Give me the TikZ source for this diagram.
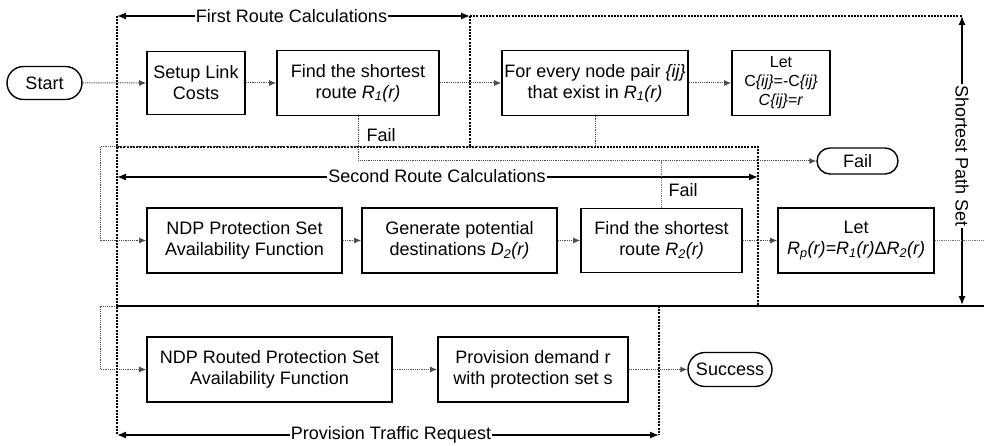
\documentclass[tikz,border=0pt]{standalone}
\usepackage{fontspec}
\setmainfont{Liberation Sans}
\usetikzlibrary{arrows.meta,shapes.misc,calc}
\newcommand{\Rr}[1]{\textit{R\textsubscript{#1}(r)}}
\begin{document}
\begin{tikzpicture}[x=1pt,y=-1pt,
  font=\fontsize{18}{21}\selectfont,
  box/.style={draw,line width=1.6pt,rectangle,inner sep=0pt,align=center},
  term/.style={draw,line width=1.4pt,rounded rectangle,inner sep=0pt,align=center},
  conn/.style={draw=black!70,line width=1pt,dash pattern=on 1.2pt off 1pt,-{Latex[length=7pt,width=6pt]}},
  connl/.style={draw=black!55,line width=0.9pt,dash pattern=on 1.2pt off 1pt},
  region/.style={draw=black,line width=1.4pt,dash pattern=on 2pt off 1.2pt},
  dim/.style={draw=black,line width=1.3pt,{Latex[length=9pt,width=7pt]}-{Latex[length=9pt,width=7pt]}},
  lbl/.style={fill=white,inner sep=1pt}
]
\useasboundingbox (0,0) rectangle (984,446);

% region coordinates
\coordinate (a1) at (117,16);
\coordinate (a2) at (470,16);
\coordinate (a3) at (962,16);
\coordinate (a4) at (470,147);
\coordinate (b1) at (117,147);
\coordinate (b2) at (758,147);
\coordinate (b3) at (758,306);
\coordinate (c0) at (100,306);
\coordinate (c1) at (117,306);
\coordinate (c2) at (659,306);
\coordinate (c3) at (984,306);
\coordinate (c4) at (659,435);
\coordinate (bl) at (117,435);
\coordinate (s2) at (962,305);
\coordinate (d1) at (117,177);
\coordinate (d2) at (758,177);
\coordinate (g1) at (100,147);
\coordinate (exitR) at (984,240.5);

% regions
\draw[region] (a1) -- (bl);
\draw[region] (a2) -- (a3);
\draw[region] (a2) -- (a4);
\draw[region] (b1) -- (b2) -- (b3);
\draw[region] (c2) -- (c4);
\draw[line width=1.3pt] (c1) -- (c3);

% dimension arrows
\draw[dim] (a1) -- (a2);
\draw[dim] (a3) -- (s2);
\draw[dim] (d1) -- (d2);
\draw[dim] (bl) -- (c4);
\node[lbl] (t1) at (291.5,16) {First Route Calculations};
\node[lbl,rotate=-90] (t2) at (962,156) {Shortest Path Set};
\node[lbl] (t3) at (437,176) {Second Route Calculations};
\node[lbl] (t4) at (391,435) {Provision Traffic Request};

% first row
\node[term,minimum width=75pt,minimum height=33pt] (start) at (44.5,83) {Start};
\node[box,minimum width=98pt,minimum height=63pt] (setup) at (196,83) {Setup Link\\Costs};
\node[box,minimum width=162pt,minimum height=65pt] (r1) at (358,83) {Find the shortest\\route \Rr{1}};
\node[box,minimum width=186pt,minimum height=65pt] (pair) at (595,83) {For every node pair \textit{\{ij\}}\\that exist in \Rr{1}};
\node[box,minimum width=98pt,minimum height=65pt,font=\fontsize{16}{19}\selectfont] (letc) at (781,83) {Let\\C\textit{\{ij\}}=-C\textit{\{ij\}}\\\textit{C\{ij\}}=\textit{r}};

% second row
\node[term,minimum width=81pt,minimum height=26pt] (failo) at (857.5,161) {Fail};
\node[box,minimum width=195pt,minimum height=65pt] (ndp) at (244.5,240.5) {NDP Protection Set\\Availability Function};
\node[box,minimum width=195pt,minimum height=65pt] (gen) at (459.5,240.5) {Generate potential\\destinations \textit{D\textsubscript{2}(r)}};
\node[box,minimum width=161pt,minimum height=64pt] (r2) at (661.5,240.5) {Find the shortest\\route \Rr{2}};
\node[box,minimum width=156pt,minimum height=65pt] (letp) at (856,240.5) {Let\\\textit{R\textsubscript{p}(r)=R\textsubscript{1}(r)}Δ\textit{R\textsubscript{2}(r)}};

% third row
\node[box,minimum width=245pt,minimum height=65pt] (ndpr) at (269.5,369.5) {NDP Routed Protection Set\\Availability Function};
\node[box,minimum width=190pt,minimum height=65pt] (prov) at (533,369.5) {Provision demand r\\with protection set s};
\node[term,minimum width=84pt,minimum height=34pt] (succ) at (730,369.5) {Success};

% fail labels
\node (f1) at (381,135) {Fail};
\node (f2) at (683,190) {Fail};

% connectors
\draw[conn] (start) -- (setup);
\draw[conn] (setup) -- (r1);
\draw[conn] (r1) -- (pair);
\draw[conn] (pair) -- (letc);
\draw[conn] (r1.south) |- (failo.west);
\draw[connl] (r2.north) -- (r2.north |- failo.west);
\draw[conn] (pair.south) -- (pair.south |- g1) -- (g1) |- (ndp.west);
\draw[conn] (ndp) -- (gen);
\draw[conn] (gen) -- (r2);
\draw[conn] (r2) -- (letp);
\draw[connl] (letp.east) -- (exitR);
\draw[conn] (c1) -- (c0) |- (ndpr.west);
\draw[conn] (ndpr) -- (prov);
\draw[conn] (prov) -- (succ);
\end{tikzpicture}
\end{document}
